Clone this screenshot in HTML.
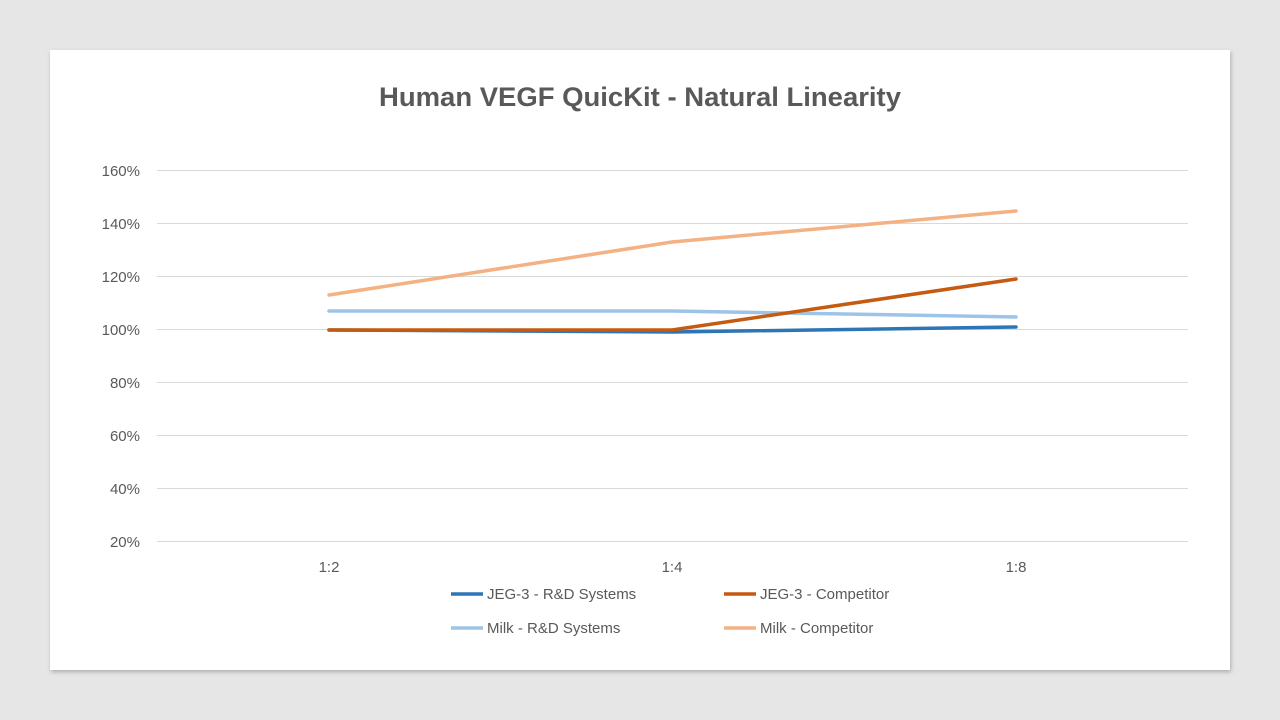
<!DOCTYPE html>
<html><head><style>
body{margin:0;width:1280px;height:720px;background:#e6e6e6;overflow:hidden;font-family:"Liberation Sans",sans-serif;}
</style></head><body>
<svg width="1280" height="720" xmlns="http://www.w3.org/2000/svg" style="position:absolute;left:0;top:0">
<defs><filter id="s" x="-5%" y="-5%" width="110%" height="110%"><feDropShadow dx="1" dy="2" stdDeviation="2" flood-color="#000" flood-opacity="0.25"/></filter></defs>
<rect x="50" y="50" width="1180" height="620" fill="#fff" filter="url(#s)"/>
<text x="379" y="106" textLength="522" lengthAdjust="spacingAndGlyphs" font-size="27" font-weight="bold" fill="#595959" font-family="Liberation Sans, sans-serif">Human VEGF QuicKit - Natural Linearity</text>
<g stroke="#d9d9d9" stroke-width="1">
<line x1="157" x2="1188" y1="170.5" y2="170.5"/>
<line x1="157" x2="1188" y1="223.5" y2="223.5"/>
<line x1="157" x2="1188" y1="276.5" y2="276.5"/>
<line x1="157" x2="1188" y1="329.5" y2="329.5"/>
<line x1="157" x2="1188" y1="382.5" y2="382.5"/>
<line x1="157" x2="1188" y1="435.5" y2="435.5"/>
<line x1="157" x2="1188" y1="488.5" y2="488.5"/>
<line x1="157" x2="1188" y1="541.5" y2="541.5"/>
</g>
<g font-size="15" fill="#595959" text-anchor="end" font-family="Liberation Sans, sans-serif">
<text x="140" y="176">160%</text><text x="140" y="229">140%</text><text x="140" y="282">120%</text><text x="140" y="335">100%</text>
<text x="140" y="388">80%</text><text x="140" y="441">60%</text><text x="140" y="494">40%</text><text x="140" y="547">20%</text>
</g>
<g font-size="15" fill="#595959" text-anchor="middle" font-family="Liberation Sans, sans-serif">
<text x="329" y="572">1:2</text><text x="672" y="572">1:4</text><text x="1016" y="572">1:8</text>
</g>
<g fill="none" stroke-width="3.5" stroke-linecap="round">
<polyline points="329,311 672,311 1016,317" stroke="#9dc3e6"/>
<polyline points="329,295 672,242 1016,211" stroke="#f4b183"/>
<polyline points="329,330 672,332 1016,327" stroke="#2e75b6"/>
<polyline points="329,330 672,330 1016,279" stroke="#c55a11"/>
</g>
<g stroke-width="3.5">
<line x1="451" x2="483" y1="594" y2="594" stroke="#2e75b6"/>
<line x1="724" x2="756" y1="594" y2="594" stroke="#c55a11"/>
<line x1="451" x2="483" y1="628" y2="628" stroke="#9dc3e6"/>
<line x1="724" x2="756" y1="628" y2="628" stroke="#f4b183"/>
</g>
<g font-size="15" fill="#595959" font-family="Liberation Sans, sans-serif">
<text x="487" y="599">JEG-3 - R&amp;D Systems</text>
<text x="760" y="599">JEG-3 - Competitor</text>
<text x="487" y="633">Milk - R&amp;D Systems</text>
<text x="760" y="633">Milk - Competitor</text>
</g>
</svg>
</body></html>
